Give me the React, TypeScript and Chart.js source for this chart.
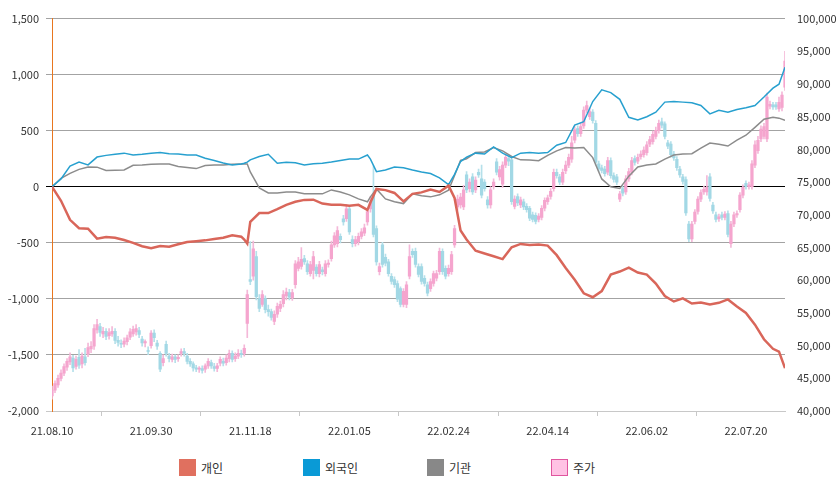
import { useEffect, useRef } from "react";
import { Chart, registerables } from "chart.js";

Chart.register(...registerables);

// x axis: trading-day index, labels every 33 days
const tickIdx = [0, 33, 66, 99, 132, 165, 198, 231];
const tickLabels = ["21.08.10", "21.09.30", "21.11.18", "22.01.05", "22.02.24", "22.04.14", "22.06.02", "22.07.20"];
const lastIdx = 244;

// cumulative net buying (left axis), sampled at these day indices
const lineIdx = [
  0, 3, 6, 9, 12, 15, 18, 21, 24, 27,
  30, 33, 36, 39, 42, 45, 48, 51, 54, 57,
  60, 63, 64, 65, 66, 69, 72, 75, 78, 81,
  84, 87, 90, 93, 96, 99, 102, 105, 106, 108,
  111, 114, 117, 120, 123, 126, 129, 132, 134, 136,
  138, 141, 144, 147, 150, 153, 156, 159, 162, 165,
  168, 171, 174, 177, 180, 183, 186, 189, 192, 195,
  198, 201, 204, 207, 210, 213, 216, 219, 222, 225,
  228, 231, 234, 237, 240, 242, 244,
];
const retail = [
  0, -125, -295, -370, -374, -463, -448, -455, -475, -500,
  -530, -548, -528, -535, -512, -492, -485, -478, -465, -455,
  -432, -445, -470, -507, -312, -235, -235, -200, -161, -134,
  -117, -115, -150, -160, -161, -170, -161, -206, -140, -19,
  -30, -55, -130, -63, -50, -25, -46, 10, -100, -390,
  -470, -570, -595, -620, -645, -540, -510, -520, -515, -525,
  -610, -725, -830, -950, -985, -930, -783, -756, -721, -765,
  -783, -863, -975, -1023, -996, -1041, -1032, -1050, -1035, -1005,
  -1067, -1125, -1230, -1360, -1445, -1470, -1618,
];
const foreign = [
  0, 70, 185, 220, 195, 265, 280, 290, 300, 283,
  290, 300, 305, 295, 292, 283, 283, 255, 235, 212,
  195, 203, 210, 220, 240, 270, 290, 210, 218, 215,
  195, 205, 210, 221, 235, 247, 247, 283, 247, 135,
  150, 176, 170, 150, 132, 118, 80, 20, 110, 225,
  265, 300, 292, 355, 300, 260, 300, 305, 300, 305,
  370, 395, 550, 580, 760, 865, 840, 780, 620, 595,
  625, 665, 755, 760, 755, 750, 725, 650, 683, 665,
  690, 705, 725, 800, 880, 915, 1065,
];
const institution = [
  0, 75, 120, 155, 176, 175, 145, 148, 150, 192,
  194, 200, 203, 203, 180, 172, 162, 190, 194, 194,
  200, 203, 203, 203, 132, -10, -55, -55, -46, -46,
  -63, -63, -63, -28, -46, -72, -108, -134, -90, -19,
  -108, -134, -150, -63, -80, -90, -72, -30, 100, 235,
  250, 305, 310, 350, 320, 270, 240, 238, 232, 280,
  320, 350, 345, 350, 260, 70, 0, -15, 95, 176,
  194, 203, 247, 283, 292, 295, 345, 390, 380, 363,
  416, 460, 530, 603, 620, 612, 594,
];

// daily stock price candles, thousand won (right axis)
const priceOpen = [
  42.3, 43.2, 44.0, 45.0, 45.8, 46.7, 47.5, 48.1, 46.8, 48.2,
  47.2, 48.3, 48.7, 49.5, 49.9, 52.4, 52.9, 51.8, 52.2, 51.5,
  51.8, 52.2, 50.8, 50.3, 50.2, 50.6, 51.3, 51.8, 52.1, 52.3,
  51.0, 50.4, 49.2, 50.0, 51.9, 50.4, 48.8, 47.4, 50.2, 48.4,
  47.9, 48.3, 48.0, 48.8, 49.1, 48.4, 47.6, 47.2, 46.6, 46.4,
  46.5, 46.4, 46.9, 47.4, 46.8, 46.5, 47.3, 47.6, 47.4, 48.0,
  48.8, 48.0, 48.4, 48.8, 48.8, 53.4, 60.1, 60.6, 63.6, 57.2,
  56.3, 57.2, 55.5, 55.2, 53.7, 54.8, 55.7, 56.4, 57.6, 58.1,
  57.3, 59.3, 61.8, 62.1, 63.3, 62.5, 61.0, 61.5, 62.0, 61.0,
  61.6, 61.0, 62.4, 63.3, 65.4, 65.6, 66.7, 69.4, 69.4, 70.9,
  66.2, 65.6, 65.9, 66.7, 67.2, 68.9, 70.9, 73.0, 67.9, 61.3,
  65.4, 63.5, 62.8, 60.6, 60.1, 59.5, 58.7, 56.3, 56.3, 60.6,
  64.4, 64.4, 62.1, 62.1, 60.3, 59.3, 58.7, 59.5, 60.3, 61.3,
  64.4, 61.8, 61.0, 61.3, 65.4, 71.2, 71.5, 71.2, 76.1, 74.0,
  75.8, 73.8, 76.5, 75.5, 75.0, 72.3, 71.5, 74.3, 78.1, 75.8,
  74.7, 77.6, 78.6, 78.4, 71.3, 72.8, 71.5, 72.0, 71.3, 71.0,
  70.0, 69.9, 69.3, 69.6, 71.0, 72.0, 72.8, 74.0, 76.5, 75.8,
  75.0, 76.7, 77.6, 78.5, 81.4, 83.2, 82.4, 83.6, 86.0, 85.0,
  85.7, 84.0, 77.8, 77.2, 77.0, 76.5, 78.3, 76.0, 75.8, 72.4,
  74.0, 73.5, 75.5, 76.5, 78.6, 78.2, 78.9, 79.2, 79.5, 80.8,
  81.2, 82.0, 82.9, 84.2, 83.9, 81.0, 80.8, 79.3, 78.5, 77.0,
  75.8, 75.4, 68.6, 66.3, 69.0, 70.5, 72.4, 73.5, 73.5, 75.8,
  71.5, 70.0, 69.4, 70.0, 69.6, 70.2, 65.6, 68.6, 70.0, 70.8,
  73.0, 74.8, 74.3, 74.3, 77.6, 79.8, 81.6, 82.0, 81.6, 86.6,
  86.8, 86.8, 86.2, 86.4, 89.5,
];
const priceClose = [
  43.2, 44.2, 45.0, 45.8, 46.8, 47.6, 48.3, 46.6, 47.9, 47.0,
  48.4, 47.4, 49.7, 49.9, 52.6, 53.2, 52.0, 52.2, 51.4, 52.0,
  52.2, 50.8, 50.5, 50.2, 50.7, 51.2, 52.1, 52.5, 52.6, 51.7,
  50.4, 50.6, 49.1, 51.9, 51.2, 49.9, 46.4, 48.0, 48.8, 48.0,
  48.3, 47.9, 48.2, 49.1, 48.8, 47.6, 47.2, 46.6, 46.4, 46.5,
  46.2, 46.9, 47.6, 46.9, 46.5, 46.9, 47.9, 47.3, 48.1, 48.8,
  47.9, 48.4, 48.8, 48.6, 49.6, 57.8, 59.8, 64.8, 57.5, 55.7,
  57.8, 55.5, 55.2, 54.3, 54.8, 56.0, 56.3, 57.8, 58.2, 57.4,
  58.1, 62.5, 62.8, 63.2, 62.8, 61.3, 62.4, 63.6, 61.0, 62.4,
  61.3, 62.5, 62.6, 65.4, 66.8, 67.6, 66.2, 68.9, 70.9, 67.4,
  65.6, 66.2, 66.7, 67.4, 68.0, 70.5, 72.0, 67.0, 62.8, 62.1,
  62.4, 62.6, 61.0, 59.8, 59.3, 57.1, 56.3, 58.3, 59.3, 63.6,
  63.9, 62.4, 60.9, 59.8, 59.5, 58.0, 59.8, 61.0, 61.0, 64.4,
  61.3, 60.6, 61.8, 63.9, 67.9, 72.4, 72.7, 73.8, 73.8, 75.0,
  73.5, 75.3, 76.1, 73.0, 74.0, 71.5, 73.8, 75.0, 76.5, 76.9,
  77.6, 78.8, 78.2, 72.0, 72.4, 71.8, 72.3, 71.2, 70.8, 69.5,
  69.3, 69.0, 69.8, 71.0, 72.2, 72.6, 73.6, 76.5, 76.0, 75.0,
  76.5, 77.6, 78.8, 81.0, 83.0, 82.4, 83.5, 86.0, 86.7, 85.8,
  84.4, 78.0, 77.0, 76.8, 76.3, 78.3, 76.0, 75.4, 75.0, 73.2,
  73.3, 75.5, 76.6, 78.3, 78.0, 78.8, 79.3, 79.9, 80.7, 81.5,
  82.3, 82.9, 84.0, 83.7, 82.0, 80.5, 79.2, 78.7, 77.2, 76.1,
  75.1, 70.3, 66.3, 68.6, 70.4, 72.4, 73.4, 73.9, 74.2, 72.5,
  70.6, 69.3, 69.7, 69.6, 70.1, 67.0, 68.6, 70.0, 70.2, 73.0,
  74.2, 74.3, 74.6, 77.8, 80.7, 81.4, 83.1, 83.5, 88.0, 86.9,
  86.5, 86.5, 87.2, 88.3, 93.5,
];
const priceHigh = [
  43.8, 44.6, 45.5, 46.3, 47.2, 48.0, 48.9, 48.5, 48.4, 49.4,
  48.9, 49.6, 50.4, 50.6, 53.2, 54.0, 53.4, 52.8, 52.6, 52.6,
  52.9, 52.6, 51.4, 50.9, 51.2, 51.6, 52.6, 53.0, 53.2, 52.8,
  51.4, 50.9, 49.8, 52.3, 52.4, 50.8, 49.1, 48.6, 50.7, 48.8,
  48.7, 48.6, 48.6, 49.5, 49.6, 48.8, 48.0, 47.5, 47.0, 46.8,
  46.9, 47.2, 48.0, 47.8, 47.3, 47.3, 48.3, 48.1, 48.6, 49.3,
  49.2, 48.9, 49.4, 49.3, 50.1, 58.5, 65.9, 66.0, 64.4, 57.8,
  58.4, 57.6, 56.2, 55.6, 55.3, 56.5, 56.8, 58.4, 58.8, 58.6,
  58.6, 63.0, 63.5, 65.0, 63.8, 63.0, 62.9, 64.4, 62.4, 62.9,
  62.0, 63.0, 63.1, 66.0, 67.3, 68.2, 67.1, 69.9, 71.6, 71.3,
  66.8, 66.7, 67.2, 67.9, 68.6, 71.0, 72.8, 77.5, 68.3, 62.6,
  65.8, 64.0, 63.2, 61.0, 60.5, 59.9, 59.0, 58.7, 59.8, 65.4,
  64.8, 64.9, 62.5, 62.5, 60.7, 59.7, 60.2, 61.4, 61.5, 64.9,
  64.8, 62.2, 62.3, 64.4, 68.4, 73.0, 73.3, 74.5, 76.6, 75.5,
  76.3, 75.8, 77.0, 77.6, 75.4, 72.8, 74.3, 75.5, 78.6, 77.4,
  78.1, 79.3, 79.0, 78.8, 72.9, 73.2, 72.7, 72.4, 71.7, 71.3,
  70.4, 70.3, 70.2, 71.4, 72.6, 73.0, 74.0, 77.0, 77.0, 76.2,
  77.0, 78.2, 79.3, 82.0, 83.5, 83.6, 84.0, 86.5, 87.4, 86.3,
  86.1, 84.4, 78.2, 77.6, 77.4, 78.8, 78.7, 76.4, 76.2, 73.6,
  74.4, 76.0, 77.1, 78.8, 79.0, 79.3, 79.8, 80.4, 81.2, 82.0,
  82.8, 83.4, 84.5, 84.8, 84.2, 81.4, 81.2, 79.7, 78.9, 77.4,
  76.2, 75.8, 69.0, 69.0, 70.8, 72.8, 73.8, 74.4, 76.0, 76.3,
  71.9, 70.4, 70.1, 70.4, 70.5, 70.6, 69.0, 70.4, 70.6, 73.4,
  74.6, 75.2, 75.0, 78.3, 81.3, 82.0, 83.6, 84.0, 88.6, 87.4,
  87.2, 87.2, 88.0, 88.8, 95.0,
];
const priceLow = [
  41.8, 42.8, 43.6, 44.6, 45.4, 46.2, 47.1, 46.0, 46.4, 46.5,
  46.6, 47.0, 48.3, 48.9, 49.4, 51.9, 51.4, 51.2, 50.9, 51.0,
  51.4, 50.3, 49.9, 49.7, 49.8, 50.1, 50.9, 51.4, 51.6, 51.2,
  49.9, 49.8, 48.6, 49.6, 50.6, 49.4, 46.0, 46.9, 48.4, 47.5,
  47.5, 47.4, 47.6, 48.4, 48.4, 47.2, 46.8, 46.1, 46.0, 45.9,
  45.8, 45.9, 46.5, 46.5, 46.1, 46.0, 46.9, 46.9, 47.0, 47.5,
  47.5, 47.6, 48.0, 48.2, 48.4, 51.2, 59.3, 60.0, 57.0, 55.2,
  56.0, 55.0, 54.5, 53.9, 53.2, 54.3, 55.2, 55.9, 57.0, 57.0,
  56.9, 58.8, 61.4, 61.7, 62.4, 60.9, 60.6, 60.2, 60.6, 60.5,
  60.8, 60.6, 62.0, 62.9, 65.0, 65.1, 65.7, 68.4, 69.0, 67.0,
  65.1, 65.2, 65.4, 66.3, 66.8, 68.4, 70.4, 66.6, 62.3, 60.8,
  62.0, 62.2, 60.6, 59.4, 58.9, 56.7, 55.9, 55.9, 55.8, 60.2,
  63.5, 62.0, 60.5, 59.4, 59.1, 57.6, 58.3, 59.1, 59.9, 60.9,
  60.9, 60.2, 60.6, 60.9, 65.0, 70.7, 71.0, 70.8, 73.4, 73.5,
  73.1, 73.4, 75.7, 72.6, 73.6, 71.0, 71.0, 73.9, 76.1, 75.3,
  74.2, 77.2, 77.5, 71.6, 70.9, 71.4, 71.1, 70.8, 70.4, 69.1,
  68.9, 68.6, 68.9, 69.2, 70.6, 71.6, 72.4, 73.6, 75.6, 74.6,
  74.6, 76.3, 77.2, 78.0, 81.0, 82.0, 82.0, 83.2, 85.6, 84.6,
  84.0, 77.6, 76.6, 76.4, 75.9, 76.1, 75.6, 75.0, 74.6, 72.0,
  72.9, 73.1, 75.1, 76.1, 77.6, 77.8, 78.5, 78.8, 79.1, 80.4,
  80.8, 81.6, 82.5, 83.3, 81.6, 80.1, 78.8, 78.3, 76.8, 75.7,
  74.7, 69.9, 65.9, 65.9, 68.6, 70.1, 72.0, 73.1, 73.0, 72.1,
  70.2, 68.9, 69.0, 69.2, 69.2, 66.6, 65.0, 68.2, 69.6, 70.4,
  72.6, 73.9, 73.9, 73.9, 77.2, 79.4, 81.2, 81.6, 81.2, 86.2,
  86.1, 86.1, 85.8, 85.9, 89.0,
];

const RED = "#d9665a";
const BLUE = "#27a0cf";
const GRAY = "#8c8c8c";
const UP_BODY = "#f5a5ce";
const UP_WICK = "#f4b8d8";
const DOWN_BODY = "#a2d8e5";
const DOWN_WICK = "#b5e0ea";
const FONT = "'Noto Sans CJK KR', 'Noto Sans', sans-serif";

const legendItems = [
  { label: "개인", fill: "#e0705f", border: "#e0705f" },
  { label: "외국인", fill: "#0a9ad6", border: "#0a9ad6" },
  { label: "기관", fill: "#888888", border: "#888888" },
  { label: "주가", fill: "#ffc2e4", border: "#e0559e" },
];

export default function App() {
  const canvasRef = useRef<HTMLCanvasElement>(null);

  useEffect(() => {
    if (!canvasRef.current) return;
    Chart.defaults.font.family = FONT;
    Chart.defaults.font.size = 11;
    Chart.defaults.color = "#333";

    const up = priceClose.map((c, i) => c >= priceOpen[i]);

    const chart = new Chart(canvasRef.current, {
      type: "line",
      data: {
        datasets: [
          {
            type: "line",
            label: "개인",
            data: lineIdx.map((x, k) => ({ x, y: retail[k] })),
            borderColor: RED,
            borderWidth: 2.5,
            pointRadius: 0,
            yAxisID: "yL",
            order: 0,
          },
          {
            type: "line",
            label: "외국인",
            data: lineIdx.map((x, k) => ({ x, y: foreign[k] })),
            borderColor: BLUE,
            borderWidth: 1.5,
            pointRadius: 0,
            yAxisID: "yL",
            order: 1,
          },
          {
            type: "line",
            label: "기관",
            data: lineIdx.map((x, k) => ({ x, y: institution[k] })),
            borderColor: GRAY,
            borderWidth: 1.5,
            pointRadius: 0,
            yAxisID: "yL",
            order: 2,
          },
          {
            type: "bar",
            label: "주가 wick",
            data: priceHigh.map((h, i) => ({ x: i, y: [priceLow[i], h] })),
            backgroundColor: up.map((u) => (u ? UP_WICK : DOWN_WICK)),
            barThickness: 1,
            grouped: false,
            yAxisID: "yR",
            order: 6,
          },
          {
            type: "bar",
            label: "주가",
            data: priceOpen.map((o, i) => ({ x: i, y: [o, priceClose[i]] })),
            backgroundColor: up.map((u) => (u ? UP_BODY : DOWN_BODY)),
            barThickness: 2.6,
            minBarLength: 1,
            grouped: false,
            yAxisID: "yR",
            order: 5,
          },
        ],
      },
      options: {
        animation: false,
        responsive: false,
        events: [],
        layout: { padding: { top: 16, left: 0, right: 0, bottom: 0 } },
        plugins: { legend: { display: false }, tooltip: { enabled: false } },
        scales: {
          x: {
            type: "linear",
            min: 0,
            max: lastIdx,
            offset: false,
            afterBuildTicks: (s: any) => {
              s.ticks = tickIdx.map((v) => ({ value: v }));
            },
            afterFit: (s: any) => {
              s.height = 34;
            },
            ticks: {
              callback: (v: any) => tickLabels[tickIdx.indexOf(Number(v))] ?? "",
              maxRotation: 0,
              autoSkip: false,
              padding: 8,
            },
            grid: { drawOnChartArea: false, tickLength: 5, color: "#c8c8c8" },
            border: { color: "#c8c8c8" },
          },
          yL: {
            type: "linear",
            position: "left",
            min: -2000,
            max: 1500,
            ticks: {
              stepSize: 500,
              padding: 7,
              callback: (v: any) => Number(v).toLocaleString("en-US"),
            },
            afterFit: (s: any) => {
              s.width = 52;
            },
            grid: {
              tickLength: 6,
              color: (c: any) =>
                c.tick && c.tick.value === 0 ? "#000" : c.tick && c.tick.value === -2000 ? "#c8c8c8" : "#a3a3a3",
            },
            border: { color: "#e8761f" },
          },
          yR: {
            type: "linear",
            position: "right",
            min: 40,
            max: 100,
            ticks: {
              stepSize: 5,
              padding: 12,
              callback: (v: any) => (Number(v) * 1000).toLocaleString("en-US"),
            },
            afterFit: (s: any) => {
              s.width = 55;
            },
            grid: { drawOnChartArea: false, drawTicks: false },
            border: { display: false },
          },
        },
      },
    });

    return () => {
      chart.destroy();
    };
  }, []);

  return (
    <div style={{ position: "absolute", left: 0, top: 0, width: 840, height: 492, background: "#fff", fontFamily: FONT }}>
      <canvas ref={canvasRef} width={840} height={445} style={{ position: "absolute", left: 0, top: 0 }}></canvas>
      <div style={{ position: "absolute", left: 179, top: 459, display: "flex" }}>
        {legendItems.map((it) => (
          <div key={it.label} style={{ width: 124, display: "flex", alignItems: "center" }}>
            <span
              style={{
                display: "inline-block",
                width: 15,
                height: 15,
                background: it.fill,
                border: `1px solid ${it.border}`,
                marginRight: 5,
              }}
            ></span>
            <span style={{ fontSize: 12, color: "#333", lineHeight: "17px" }}>{it.label}</span>
          </div>
        ))}
      </div>
    </div>
  );
}
